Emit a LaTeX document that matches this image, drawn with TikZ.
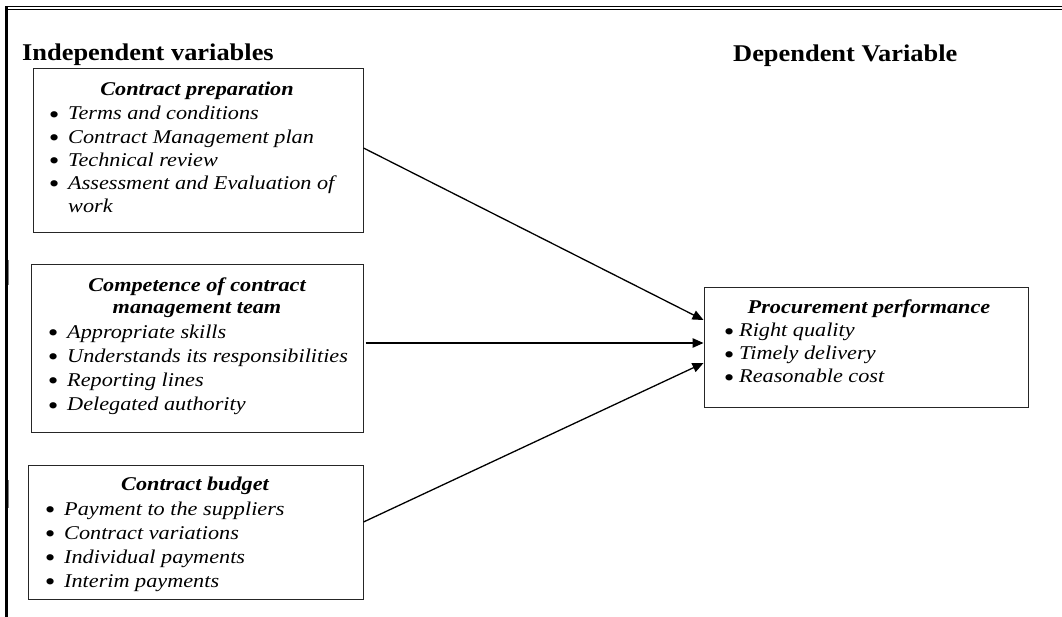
\documentclass[tikz,border=0pt]{standalone}
\usepackage{fontspec}
\setmainfont{Liberation Serif}[FakeStretch=1.14]
\newfontfamily\hfont{Liberation Serif}[FakeStretch=1.1]
\usetikzlibrary{arrows.meta}
\newcommand\bul{\smash{\raisebox{-3.3pt}{\scalebox{1.35}{\textbullet}}}}
\newcommand\bitem[2][19.6pt]{\makebox[#1][l]{\bul}#2}
\tikzset{
  box/.style={draw=black!85, line width=1pt, rectangle, inner sep=0pt},
  head/.style={font=\hfont\fontsize{24}{28}\selectfont\bfseries, anchor=base west, inner sep=0pt},
  ttl/.style={font=\fontsize{19.5}{21}\selectfont\bfseries\itshape, anchor=base, inner sep=0pt},
  lst/.style={anchor=base west, inner sep=0pt},
  conn/.style={line width=1.3pt, -{Triangle[length=11pt,width=9.5pt]}},
}
\begin{document}
\begin{tikzpicture}[x=1pt,y=-1pt]
\useasboundingbox (0,0) rectangle (1062,617);
% frame
\draw[line width=1pt] (5,6.5) -- (1062,6.5);
\draw[line width=1pt] (5,9.5) -- (1062,9.5);
\draw[line width=3pt] (6.5,6) -- (6.5,617);
\draw[line width=0.6pt, black!50] (8.3,260) -- (8.3,285);
\draw[line width=0.6pt, black!50] (8.3,480) -- (8.3,508);
% headers
\node[head] (hi) at (22,61) {Independent variables};
\node[head] (hd) at (733,62) {Dependent Variable};
% boxes
\node[box, minimum width=330pt, minimum height=164pt] (b1) at (198,151) {};
\node[box, minimum width=332pt, minimum height=167pt] (b2) at (197,348.5) {};
\node[box, minimum width=335pt, minimum height=134pt] (b3) at (195.5,532) {};
\node[box, minimum width=324pt, minimum height=119pt] (b4) at (866,347.5) {};
% box 1
\node[ttl] (t1) at (197,96) {Contract preparation};
\node[lst] (l1) at (48.4,120) {\fontsize{19.5}{23.2}\selectfont\itshape
  \begin{tabular}[t]{@{}l@{}}
  \bitem{Terms and conditions}\\
  \bitem{Contract Management plan}\\
  \bitem{Technical review}\\
  \bitem{Assessment and Evaluation of}\\
  \hspace*{19.6pt}work
  \end{tabular}};
% box 2
\node[ttl] (t2) at (197,292) {\begin{tabular}[t]{@{}c@{}}Competence of contract\\ management team\end{tabular}};
\node[lst] (l2) at (47.4,338) {\fontsize{19.5}{24.3}\selectfont\itshape
  \begin{tabular}[t]{@{}l@{}}
  \bitem{Appropriate skills}\\
  \bitem{Understands its responsibilities}\\
  \bitem{Reporting lines}\\
  \bitem{Delegated authority}
  \end{tabular}};
% box 3
\node[ttl] (t3) at (195,490) {Contract budget};
\node[lst] (l3) at (44.4,515) {\fontsize{19.5}{24}\selectfont\itshape
  \begin{tabular}[t]{@{}l@{}}
  \bitem{Payment to the suppliers}\\
  \bitem{Contract variations}\\
  \bitem{Individual payments}\\
  \bitem{Interim payments}
  \end{tabular}};
% box 4
\node[ttl] (t4) at (869,313) {Procurement performance};
\node[lst] (l4) at (723.4,337) {\fontsize{19.5}{23}\selectfont\itshape
  \begin{tabular}[t]{@{}l@{}}
  \bitem[15.6pt]{Right quality}\\
  \bitem[15.6pt]{Timely delivery}\\
  \bitem[15.6pt]{Reasonable cost}
  \end{tabular}};
% connectors
\draw[conn] ([yshift=3pt]b1.east) -- ([yshift=27.5pt]b4.west);
\draw[conn] ([xshift=2pt,yshift=5.5pt]b2.east) -- ([yshift=4.5pt]b4.west);
\draw[conn] ([yshift=10pt]b3.east) -- ([yshift=-15.5pt]b4.west);
\end{tikzpicture}
\end{document}
